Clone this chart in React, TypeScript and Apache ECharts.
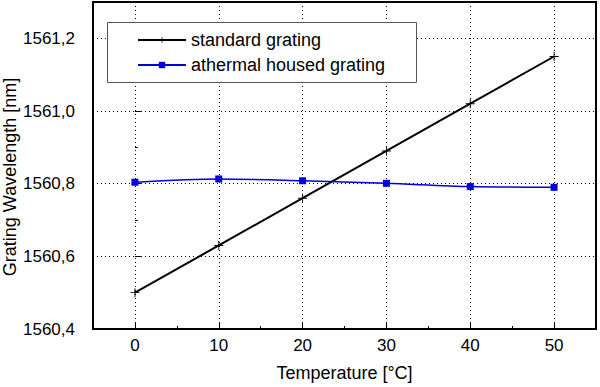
import { useEffect, useRef } from "react";
import * as echarts from "echarts";

const temperatures = [0, 10, 20, 30, 40, 50];
const standardGrating = [1560.5, 1560.63, 1560.76, 1560.89, 1561.02, 1561.15];
const athermalGrating = [1560.804, 1560.813, 1560.808, 1560.801, 1560.792, 1560.79];
const seriesNames = ["standard grating", "athermal housed grating"];
const xAxisTitle = "Temperature [°C]";
const yAxisTitle = "Grating Wavelength [nm]";

const FONT = "'Liberation Sans', Arial, sans-serif";
const PLUS = "path://M4.5,0H5.5V4.5H10V5.5H5.5V10H4.5V5.5H0V4.5H4.5Z";

export default function App() {
  const ref = useRef<HTMLDivElement>(null);
  useEffect(() => {
    if (!ref.current) return;
    const chart = echarts.init(ref.current, undefined, { renderer: "svg" });
    const grid = { left: 93, top: 2, right: 4, bottom: 58 };
    const dotted = { color: "#000", width: 1, type: [1, 3] as number[] };
    chart.setOption({
      animation: false,
      backgroundColor: "#fff",
      textStyle: { fontFamily: FONT },
      grid: { ...grid, show: true, borderColor: "#000", borderWidth: 2, backgroundColor: "transparent" },
      xAxis: [
        {
          type: "value",
          min: -5,
          max: 55,
          position: "bottom",
          name: xAxisTitle,
          nameLocation: "middle",
          nameGap: 35,
          nameTextStyle: { fontFamily: FONT, fontSize: 18, color: "#000" },
          axisLine: { show: false },
          axisTick: { show: true, inside: true, length: 6, lineStyle: { color: "#000" } },
          axisLabel: {
            fontFamily: FONT,
            fontSize: 17,
            color: "#000",
            margin: 8,
            formatter: (v: number) => (Math.abs(v % 10) < 1e-9 ? String(v) : ""),
          },
          splitLine: { show: true, lineStyle: dotted },
        },
        {
          type: "value",
          min: -5,
          max: 55,
          interval: 5,
          position: "bottom",
          axisLine: { show: false },
          axisTick: { show: true, inside: true, length: 3, lineStyle: { color: "#000" } },
          axisLabel: { show: false },
          splitLine: { show: false },
        },
      ],
      yAxis: [
        {
          type: "value",
          min: 1560.4,
          max: 1561.3,
          interval: 0.2,
          position: "left",
          axisLine: { show: false },
          axisTick: { show: true, inside: true, length: 6, lineStyle: { color: "#000" } },
          axisLabel: {
            fontFamily: FONT,
            fontSize: 17,
            color: "#000",
            margin: 18,
            formatter: (v: number) =>
              Math.abs(v - 1561.3) < 1e-6 ? "" : v.toFixed(1).replace(".", ","),
          },
          splitLine: { show: true, lineStyle: dotted },
        },
        {
          type: "value",
          min: 1560.4,
          max: 1561.3,
          interval: 0.1,
          position: "left",
          axisLine: { show: false },
          axisTick: { show: true, inside: true, length: 3, lineStyle: { color: "#000" } },
          axisLabel: { show: false },
          splitLine: { show: false },
        },
      ],
      legend: {
        z: 20,
        left: 137,
        top: 31,
        orient: "vertical",
        itemWidth: 48,
        itemHeight: 8,
        itemGap: 7,
        padding: 0,
        textStyle: { fontFamily: FONT, fontSize: 18, color: "#000", lineHeight: 18 },
        data: seriesNames,
      },
      graphic: [
        {
          type: "rect",
          z: 15,
          shape: { x: 107.5, y: 22.5, width: 309, height: 60 },
          style: { fill: "#fff", stroke: "#555", lineWidth: 1 },
        },
        {
          type: "text",
          x: 10,
          y: 177,
          rotation: Math.PI / 2,
          style: {
            text: yAxisTitle,
            font: `18px ${FONT}`,
            fill: "#000",
            align: "center",
            verticalAlign: "middle",
          },
        },
      ],
      series: [
        {
          name: seriesNames[0],
          type: "line",
          xAxisIndex: 0,
          yAxisIndex: 0,
          data: temperatures.map((t, i) => [t, standardGrating[i]]),
          symbol: PLUS,
          symbolSize: 9,
          itemStyle: { color: "#000" },
          lineStyle: { color: "#000", width: 2 },
        },
        {
          name: seriesNames[1],
          type: "line",
          xAxisIndex: 0,
          yAxisIndex: 0,
          smooth: 0.3,
          data: temperatures.map((t, i) => [t, athermalGrating[i]]),
          symbol: "rect",
          symbolSize: 7,
          itemStyle: { color: "#0000dd" },
          lineStyle: { color: "#0000dd", width: 1.5 },
        },
      ],
    });
    return () => chart.dispose();
  }, []);
  return (
    <div
      ref={ref}
      style={{ position: "fixed", left: 0, top: 0, width: 600, height: 387 }}
    />
  );
}
